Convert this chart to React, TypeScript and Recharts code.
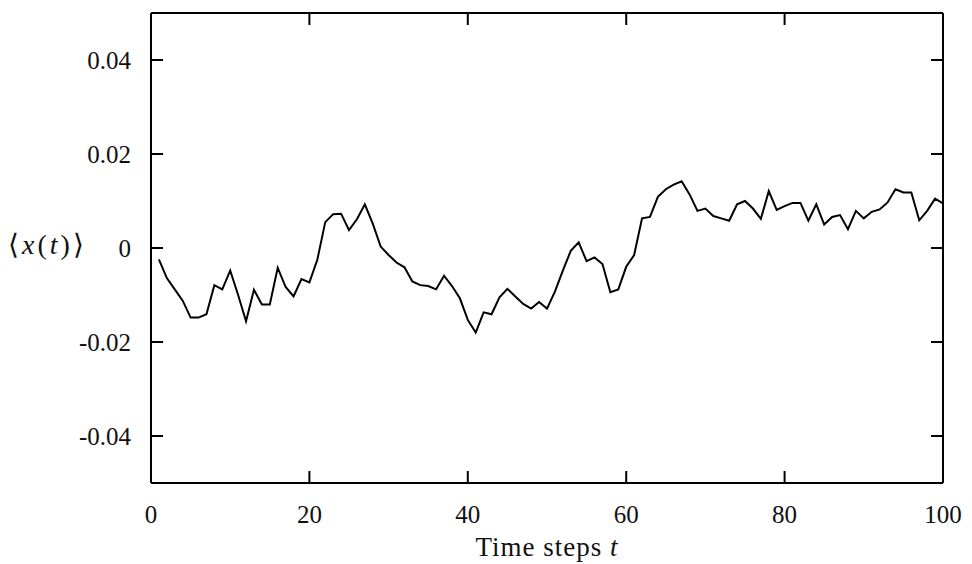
import { Line, LineChart, ReferenceLine, XAxis, YAxis } from "recharts";

const steps = Array.from({ length: 100 }, (_, i) => i + 1);

const meanX = [
  -0.0024, -0.0064, -0.0088, -0.0112, -0.0148, -0.0148, -0.0141, -0.0079, -0.0088, -0.0048,
  -0.01, -0.0156, -0.0089, -0.012, -0.012, -0.0042, -0.0083, -0.0103, -0.0066, -0.0073,
  -0.0025, 0.0055, 0.0072, 0.0073, 0.0038, 0.0061, 0.0093, 0.0052, 0.0003, -0.0015,
  -0.0031, -0.0041, -0.0071, -0.0079, -0.0081, -0.0088, -0.0059, -0.0081, -0.0107, -0.0153,
  -0.018, -0.0137, -0.0141, -0.0105, -0.0087, -0.0103, -0.0119, -0.0129, -0.0115, -0.0129,
  -0.0093, -0.0048, -0.0006, 0.0012, -0.0028, -0.002, -0.0034, -0.0094, -0.0088, -0.004,
  -0.0015, 0.0063, 0.0066, 0.0109, 0.0125, 0.0135, 0.0142, 0.0114, 0.0079, 0.0084,
  0.0068, 0.0063, 0.0058, 0.0093, 0.01, 0.0084, 0.0062, 0.0121, 0.0081, 0.0089,
  0.0096, 0.0096, 0.0058, 0.0093, 0.005, 0.0066, 0.007, 0.004, 0.0079, 0.0063,
  0.0077, 0.0082, 0.0097, 0.0125, 0.0118, 0.0118, 0.0059, 0.0079, 0.0105, 0.0095,
];

const xTicks = [0, 20, 40, 60, 80, 100];
const yTicks = [-0.04, -0.02, 0, 0.02, 0.04];
const xDomain = [0, 100];
const yDomain = [-0.05, 0.05];

const data = steps.map((t, i) => ({ t, x: meanX[i] }));

// inward tick length (about 12px) expressed in axis units
const TICK_X = (xDomain[1] - xDomain[0]) * 0.0152;
const TICK_Y = (yDomain[1] - yDomain[0]) * 0.0255;

const FONT = "'Liberation Serif', 'Times New Roman', serif";
const tickStyle = { fill: "#111", fontSize: 25, fontFamily: FONT };
const fmtY = (v: number) => (v === 0 ? "0" : v.toFixed(2));
const frame = { stroke: "#000", strokeWidth: 2 };

export default function App() {
  return (
    <LineChart
      width={956}
      height={556}
      data={data}
      margin={{ top: 4, right: 20, bottom: 0, left: 0 }}
    >
      <XAxis
        dataKey="t"
        type="number"
        domain={xDomain}
        ticks={xTicks}
        allowDataOverflow
        height={81}
        axisLine={frame}
        tickLine={false}
        tickMargin={16}
        tick={tickStyle}
        label={({ viewBox }: any) => (
          <text
            x={viewBox.x + viewBox.width / 2}
            y={542}
            textAnchor="middle"
            dominantBaseline="middle"
            letterSpacing={1}
            style={{ fontSize: 27, fontFamily: FONT, fill: "#111" }}
          >
            Time steps <tspan fontStyle="italic">t</tspan>
          </text>
        )}
      />
      <XAxis
        xAxisId="top"
        orientation="top"
        dataKey="t"
        type="number"
        domain={xDomain}
        ticks={xTicks}
        height={1}
        axisLine={frame}
        tickLine={false}
        tick={false}
      />
      <YAxis
        type="number"
        domain={yDomain}
        ticks={yTicks}
        allowDataOverflow
        width={143}
        axisLine={frame}
        tickLine={false}
        tickMargin={14}
        tick={tickStyle}
        tickFormatter={fmtY}
        label={({ viewBox }: any) => (
          <text
            x={0}
            y={viewBox.y + viewBox.height / 2}
            textAnchor="start"
            dominantBaseline="middle"
            letterSpacing={3}
            style={{ fontSize: 28, fontFamily: FONT, fill: "#111" }}
          >
            ⟨<tspan fontStyle="italic">x</tspan>(<tspan fontStyle="italic">t</tspan>)⟩
          </text>
        )}
      />
      <YAxis
        yAxisId="right"
        orientation="right"
        type="number"
        domain={yDomain}
        ticks={yTicks}
        width={1}
        axisLine={frame}
        tickLine={false}
        tick={false}
      />
      {yTicks.map((v) => (
        <ReferenceLine
          key={`l${v}`}
          segment={[
            { x: xDomain[0], y: v },
            { x: xDomain[0] + TICK_X, y: v },
          ]}
          stroke="#000"
          strokeWidth={2}
          ifOverflow="visible"
        />
      ))}
      {yTicks.map((v) => (
        <ReferenceLine
          key={`r${v}`}
          segment={[
            { x: xDomain[1] - TICK_X, y: v },
            { x: xDomain[1], y: v },
          ]}
          stroke="#000"
          strokeWidth={2}
          ifOverflow="visible"
        />
      ))}
      {xTicks.map((v) => (
        <ReferenceLine
          key={`b${v}`}
          segment={[
            { x: v, y: yDomain[0] },
            { x: v, y: yDomain[0] + TICK_Y },
          ]}
          stroke="#000"
          strokeWidth={2}
          ifOverflow="visible"
        />
      ))}
      {xTicks.map((v) => (
        <ReferenceLine
          key={`t${v}`}
          segment={[
            { x: v, y: yDomain[1] - TICK_Y },
            { x: v, y: yDomain[1] },
          ]}
          stroke="#000"
          strokeWidth={2}
          ifOverflow="visible"
        />
      ))}
      <Line
        type="linear"
        dataKey="x"
        stroke="#000"
        strokeWidth={2}
        dot={false}
        isAnimationActive={false}
      />
    </LineChart>
  );
}
